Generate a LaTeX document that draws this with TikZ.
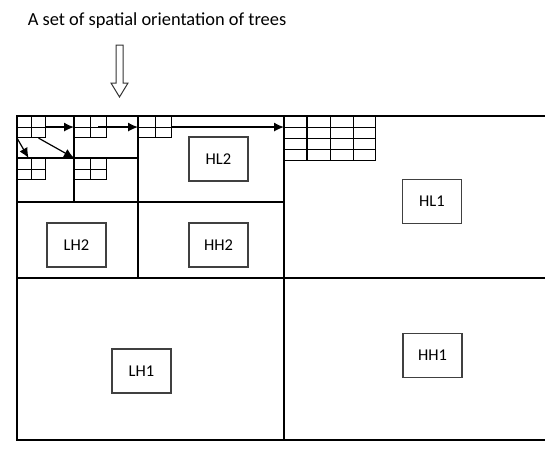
\documentclass[tikz,border=0pt]{standalone}
\usepackage{fontspec}
\setmainfont{Carlito}
\usetikzlibrary{positioning, arrows.meta, calc}

\begin{document}
\begin{tikzpicture}[
	x=1pt, y=-1pt,
	% --- ESTILOS ---
	frame/.style={
		draw, line width=1.3pt, color=black
	},
	band/.style={
		rectangle, draw=black!75, line width=1.3pt, inner sep=0pt,
		minimum width=59pt, minimum height=44pt, font=\fontsize{16.5}{18}\selectfont
	},
	quad/.style={
		rectangle, draw, line width=1.1pt, inner sep=0pt, anchor=north west,
		minimum width=#1, minimum height=21pt,
		path picture={
			\draw[line width=1.1pt] (path picture bounding box.north) -- (path picture bounding box.south)
				(path picture bounding box.west) -- (path picture bounding box.east);
		}
	},
	quad/.default=30pt,
	link/.style={
		draw, -{Latex[length=10pt, width=9pt]}, line width=1.2pt, color=black
	},
	hollow/.style={
		draw=black!80, line width=1pt, fill=white
	}
	]
	
	\useasboundingbox (0,0) rectangle (545,448);
	
	% --- 1. Titulo y flecha hueca ---
	\node [font=\fontsize{18.4}{20}\selectfont] (title) at (157,21) {A set of spatial orientation of trees};
	\draw [hollow] (116,45) -- (123,45) -- (123,83) -- (128,83) -- (119.5,97) -- (111,83) -- (116,83) -- cycle;
	
	% --- 2. El marco (sub-bandas) ---
	\draw [frame] (545,116) -- (17,116) -- (17,440) -- (545,440);
	\draw [frame] (284,116) -- (284,440);
	\draw [frame] (17,278) -- (545,278);
	% nivel 2
	\draw [frame] (138,116) -- (138,278);
	\draw [frame] (17,202) -- (284,202);
	% nivel 3
	\draw [frame] (74,116) -- (74,202);
	\draw [frame] (17,158) -- (138,158);
	
	% --- 3. Rejillas pequenas ---
	\node [quad=28pt] (qa) at (17,116) {};
	\node [quad=32pt] (qb) at (74,116) {};
	\node [quad=33pt] (qc) at (138,116) {};
	\node [quad=28pt] (qe) at (17,158) {};
	\node [quad=32pt] (qf) at (74,158) {};
	
	% rejilla 4x4 en HL1
	\node [rectangle, draw, line width=1.1pt, inner sep=0pt, anchor=north west,
		minimum width=91pt, minimum height=44pt] (qg) at (284,116) {};
	\foreach \i in {1,2,3} {
		\draw [line width=1.1pt] ($(qg.north west)!\i/4!(qg.north east)$) -- ($(qg.south west)!\i/4!(qg.south east)$);
		\draw [line width=1.1pt] ($(qg.north west)!\i/4!(qg.south west)$) -- ($(qg.north east)!\i/4!(qg.south east)$);
	}
	
	% --- 4. Orientacion (flechas entre rejillas) ---
	\draw [link] (qa.east) -- (qb.west);
	\draw [link] ([xshift=-9pt]qb.east) -- (qc.west);
	\draw [link] (qc.east) -- (qc.east -| qg.west);
	\draw [link] (qa.south west) -- ([xshift=-3pt]qe.north);
	\draw [link] ([xshift=7pt]qa.south) -- (qf.north west);
	
	% --- 5. Etiquetas ---
	\node [band] (hl2) at (218.5,159) {HL2};
	\node [band] (lh2) at (76.5,245) {LH2};
	\node [band] (hh2) at (218.5,245) {HH2};
	\node [band] (hl1) at (432,201.5) {HL1};
	\node [band] (lh1) at (141.5,371) {LH1};
	\node [band] (hh1) at (432.5,355.5) {HH1};
	
\end{tikzpicture}
\end{document}
